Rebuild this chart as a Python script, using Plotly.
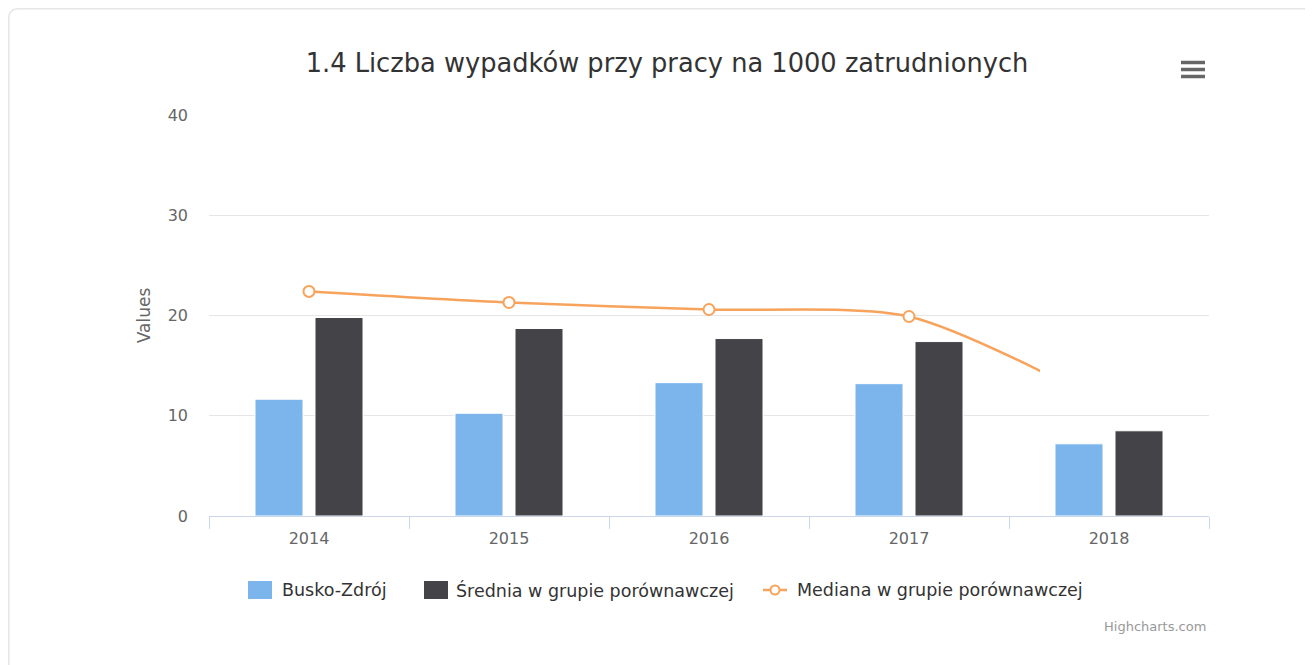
import plotly.graph_objects as go

years = ["2014", "2015", "2016", "2017", "2018"]
busko = [11.65, 10.25, 13.3, 13.2, 7.2]
srednia = [19.8, 18.7, 17.7, 17.4, 8.5]
mediana = [22.4, 21.3, 20.6, 19.9, 11.0]
y_ticks = [0, 10, 20, 30, 40]
names = ["Busko-Zdrój", "Średnia w grupie porównawczej", "Mediana w grupie porównawczej"]
colors = ["#7cb5ec", "#434348", "#f7a35c"]

OFF = 8                      # body margin of the page
W, H = 1313 - OFF, 665 - OFF
# plot area in page pixels
PL, PR, PT, PB = 209, 1209, 115, 516
L, R, T, B = PL - OFF, PR - OFF, PT - OFF, PB - OFF

def px(x):  # page pixel -> paper x
    return (x - PL) / (PR - PL)

def py(y):  # page pixel -> paper y
    return (PB - y) / (PB - PT)

FONT = "DejaVu Sans"

fig = go.Figure()
fig.add_trace(go.Bar(x=years, y=busko, name=names[0], showlegend=False,
                     marker=dict(color=colors[0], line=dict(color="#ffffff", width=1))))
fig.add_trace(go.Bar(x=years, y=srednia, name=names[1], showlegend=False,
                     marker=dict(color=colors[1], line=dict(color="#ffffff", width=1))))
fig.add_trace(go.Scatter(x=years, y=mediana, name=names[2], showlegend=False,
                         xaxis="x2", yaxis="y2", mode="lines+markers",
                         line=dict(color=colors[2], width=2.5, shape="spline", smoothing=0.75),
                         marker=dict(symbol="circle", size=11, color="#ffffff",
                                     line=dict(color=colors[2], width=2))))

clip_px = 1040
frac = px(clip_px)

shapes = []
# card border: only top and left edges fall inside the page
cx, cy, r, far_x, far_y = OFF + 0.75, OFF + 0.75, 10, 2000, 668
path = (f"M {px(cx)},{py(far_y)} "
        f"L {px(cx)},{py(cy + r)} "
        f"Q {px(cx)},{py(cy)} {px(cx + r)},{py(cy)} "
        f"L {px(far_x)},{py(cy)}")
shapes.append(dict(type="path", xref="paper", yref="paper", path=path,
                   line=dict(color="#e6e6e6", width=1.5), layer="below"))
# menu icon
for yy in (62.5, 69.5, 76.5):
    shapes.append(dict(type="line", xref="paper", yref="paper",
                       x0=px(1181), x1=px(1205), y0=py(yy), y1=py(yy),
                       line=dict(color="#666666", width=3.5)))

# legend (drawn manually to match symbol sizes)
LEG_Y = 590
sym = [(248, 272), (424, 448)]
txt_x = [280, 454, 795]
for i, (a, b) in enumerate(sym):
    shapes.append(dict(type="rect", xref="paper", yref="paper",
                       x0=px(a), x1=px(b), y0=py(581), y1=py(599),
                       fillcolor=colors[i], line=dict(width=0)))
shapes.append(dict(type="line", xref="paper", yref="paper",
                   x0=px(763), x1=px(787), y0=py(LEG_Y), y1=py(LEG_Y),
                   line=dict(color=colors[2], width=2.5)))
shapes.append(dict(type="circle", xref="paper", yref="paper",
                   x0=px(770.5), x1=px(779.5), y0=py(585.5), y1=py(594.5),
                   fillcolor="#ffffff", line=dict(color=colors[2], width=2)))

annotations = [dict(text=names[i], xref="paper", yref="paper", x=px(txt_x[i]), y=py(LEG_Y),
                    xanchor="left", yanchor="middle", showarrow=False,
                    font=dict(size=17.5, color="#333333", family=FONT))
               for i in range(3)]
annotations.append(dict(text="Highcharts.com", xref="paper", yref="paper",
                        x=px(1208), y=py(626), xanchor="right", yanchor="middle",
                        showarrow=False, font=dict(size=13, color="#999999", family=FONT)))

fig.update_layout(
    width=W, height=H,
    margin=dict(l=L, r=W - R, t=T, b=H - B, pad=0),
    paper_bgcolor="#ffffff", plot_bgcolor="rgba(0,0,0,0)",
    font=dict(family=FONT, color="#333333"),
    showlegend=False,
    title=dict(text="1.4 Liczba wypadków przy pracy na 1000 zatrudnionych",
               x=px(667), xref="paper", xanchor="center",
               y=1 - (63 - OFF) / H, yanchor="middle",
               font=dict(size=25.7, color="#333333", family=FONT)),
    barmode="group", bargap=0.4, bargroupgap=0.2,
    xaxis=dict(type="category", categoryorder="array", categoryarray=years,
               range=[-0.5, 4.5], domain=[0, 1],
               showline=True, linecolor="#ccd6eb", linewidth=1,
               ticks="outside", tickson="boundaries", ticklen=12, tickcolor="#ccd6eb",
               ticklabelstandoff=8,
               showgrid=False, tickfont=dict(size=16, color="#666666"), fixedrange=True),
    xaxis2=dict(type="category", categoryorder="array", categoryarray=years,
                range=[-0.5, -0.5 + 5 * frac], domain=[0, frac], anchor="y2",
                visible=False, fixedrange=True),
    yaxis=dict(range=[0, 40], tickvals=y_ticks, showgrid=True, gridcolor="#e6e6e6",
               zeroline=False, showline=False,
               tickfont=dict(size=16, color="#666666"), ticklabelstandoff=20,
               title=dict(text="Values", font=dict(size=17, color="#666666"), standoff=12),
               fixedrange=True),
    yaxis2=dict(range=[0, 40], domain=[0, 1], anchor="x2", visible=False,
                showgrid=False, zeroline=False, fixedrange=True),
    shapes=shapes,
    annotations=annotations,
)

fig.write_html("out.html", config={"displayModeBar": False},
               post_script="document.documentElement.style.overflow='hidden';"
                           "document.body.style.overflow='hidden';")
